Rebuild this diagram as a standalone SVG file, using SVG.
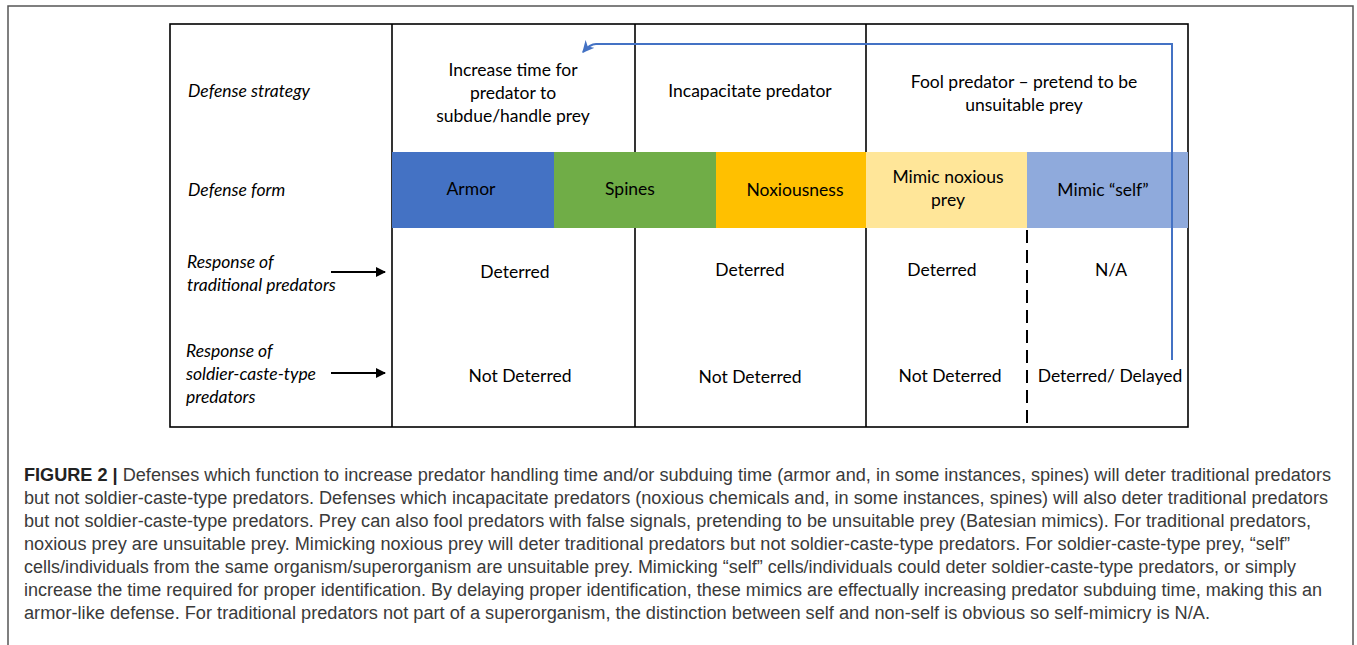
<svg xmlns="http://www.w3.org/2000/svg" width="1357" height="645" viewBox="0 0 1357 645">
<style>
.t{font-family:Lato,"Open Sans","Liberation Sans",sans-serif;font-size:17.5px;fill:#000}
.c{text-anchor:middle}
.i{font-style:italic}
.cap{font-family:"Liberation Sans Narrow","Liberation Sans",Arial,sans-serif;font-size:18px;fill:#3a3a3a}
.grid{stroke:#000;stroke-width:1.6;fill:none}
</style>
<defs>
<marker id="blk" viewBox="0 0 10 10" refX="9" refY="5" markerWidth="5" markerHeight="5" orient="auto" markerUnits="strokeWidth">
<path d="M0,0 L10,5 L0,10 z" fill="#000"/>
</marker>
<marker id="blu" viewBox="0 0 10 10" refX="9" refY="5" markerWidth="6" markerHeight="6" orient="auto" markerUnits="strokeWidth">
<path d="M0,0 L10,5 L0,10 L3,5 z" fill="#4472C4"/>
</marker>
</defs>
<rect width="1357" height="645" fill="#fff"/>
<path d="M8,660 V6 H1353 V660" fill="none" stroke="#555" stroke-width="1.5"/>
<g id="table">
<rect x="170" y="24" width="1018" height="403" class="grid"/>
<line x1="392" y1="24" x2="392" y2="427" class="grid"/>
<line x1="635" y1="24" x2="635" y2="427" class="grid"/>
<line x1="866" y1="24" x2="866" y2="427" class="grid"/>
<line x1="1027" y1="230" x2="1027" y2="427" stroke="#000" stroke-width="2" stroke-dasharray="13,7"/>
</g>
<g id="bar-armor"><rect x="392" y="152" width="162" height="76" fill="#4472C4"/><text class="t c" x="471" y="195">Armor</text></g>
<g id="bar-spines"><rect x="554" y="152" width="162" height="76" fill="#70AD47"/><text class="t c" x="630" y="195">Spines</text></g>
<g id="bar-noxious"><rect x="716" y="152" width="150" height="76" fill="#FFC000"/><text class="t c" x="795" y="196">Noxiousness</text></g>
<g id="bar-mimicnox"><rect x="866" y="152" width="161" height="76" fill="#FFE699"/><text class="t c" x="948" y="183">Mimic noxious</text><text class="t c" x="948" y="206">prey</text></g>
<g id="bar-mimicself"><rect x="1027" y="152" width="161" height="76" fill="#8FAADC"/><text class="t c" x="1103" y="196">Mimic “self”</text></g>
<g id="row-labels">
<text class="t i" x="188" y="97">Defense strategy</text>
<text class="t i" x="188" y="196">Defense form</text>
<text class="t i" x="187" y="268">Response of</text>
<text class="t i" x="187" y="291">traditional predators</text>
<text class="t i" x="186" y="357">Response of</text>
<text class="t i" x="186" y="380">soldier-caste-type</text>
<text class="t i" x="186" y="403">predators</text>
</g>
<g id="strategies">
<text class="t c" x="513" y="76">Increase time for</text>
<text class="t c" x="513" y="99">predator to</text>
<text class="t c" x="513" y="122">subdue/handle prey</text>
<text class="t c" x="750" y="97">Incapacitate predator</text>
<text class="t c" x="1024" y="88">Fool predator – pretend to be</text>
<text class="t c" x="1024" y="111">unsuitable prey</text>
</g>
<g id="responses">
<text class="t c" x="515" y="278">Deterred</text>
<text class="t c" x="750" y="276">Deterred</text>
<text class="t c" x="942" y="276">Deterred</text>
<text class="t c" x="1111" y="276">N/A</text>
<text class="t c" x="520" y="382">Not Deterred</text>
<text class="t c" x="750" y="383">Not Deterred</text>
<text class="t c" x="950" y="382">Not Deterred</text>
<text class="t c" x="1110" y="382">Deterred/ Delayed</text>
</g>
<g id="connectors">
<line x1="331" y1="272" x2="385" y2="272" stroke="#000" stroke-width="2" marker-end="url(#blk)"/>
<line x1="331" y1="373" x2="385" y2="373" stroke="#000" stroke-width="2" marker-end="url(#blk)"/>
<path d="M1172,360 V44 H596 Q590,44 583,52" fill="none" stroke="#4472C4" stroke-width="2" marker-end="url(#blu)"/>
</g>
<g id="caption">
<text class="cap" x="24" y="481" textLength="1307" lengthAdjust="spacingAndGlyphs"><tspan font-weight="bold" fill="#222">FIGURE 2 |</tspan> Defenses which function to increase predator handling time and/or subduing time (armor and, in some instances, spines) will deter traditional predators</text>
<text class="cap" x="24" y="504" textLength="1304" lengthAdjust="spacingAndGlyphs">but not soldier-caste-type predators. Defenses which incapacitate predators (noxious chemicals and, in some instances, spines) will also deter traditional predators</text>
<text class="cap" x="24" y="527" textLength="1287" lengthAdjust="spacingAndGlyphs">but not soldier-caste-type predators. Prey can also fool predators with false signals, pretending to be unsuitable prey (Batesian mimics). For traditional predators,</text>
<text class="cap" x="24" y="550" textLength="1266" lengthAdjust="spacingAndGlyphs">noxious prey are unsuitable prey. Mimicking noxious prey will deter traditional predators but not soldier-caste-type predators. For soldier-caste-type prey, “self”</text>
<text class="cap" x="24" y="573" textLength="1272" lengthAdjust="spacingAndGlyphs">cells/individuals from the same organism/superorganism are unsuitable prey. Mimicking “self” cells/individuals could deter soldier-caste-type predators, or simply</text>
<text class="cap" x="24" y="596" textLength="1298" lengthAdjust="spacingAndGlyphs">increase the time required for proper identification. By delaying proper identification, these mimics are effectually increasing predator subduing time, making this an</text>
<text class="cap" x="24" y="619" textLength="1186" lengthAdjust="spacingAndGlyphs">armor-like defense. For traditional predators not part of a superorganism, the distinction between self and non-self is obvious so self-mimicry is N/A.</text>
</g>
</svg>
